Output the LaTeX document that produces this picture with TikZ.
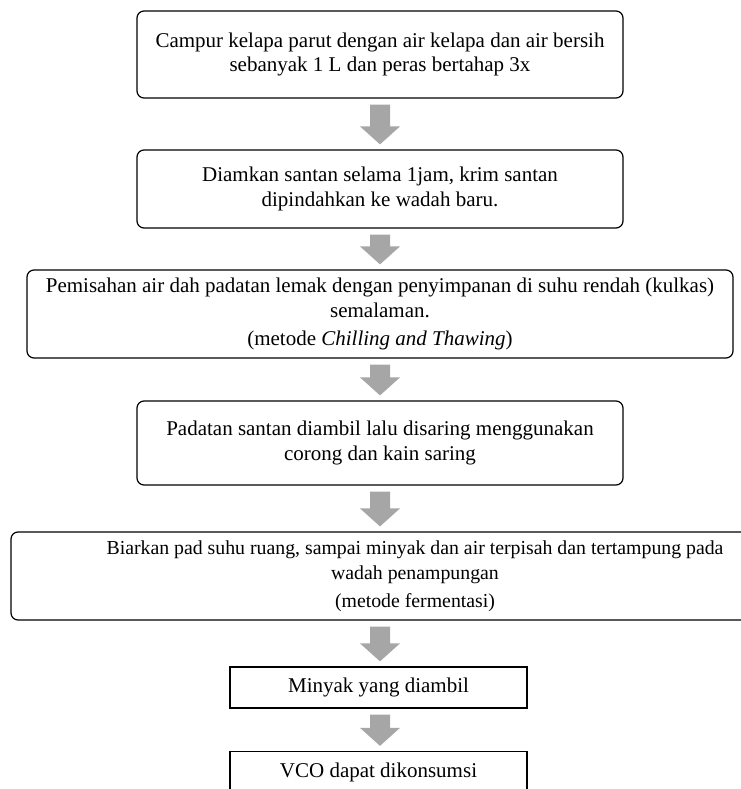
\documentclass[tikz,border=0pt]{standalone}
\usepackage{fontspec}
\setmainfont{Liberation Serif}
\usepackage{tikz}
\usetikzlibrary{calc, positioning}

\definecolor{arrowgray}{RGB}{166,166,166}

\tikzset{
    stepbox/.style={draw, rounded corners=7, line width=1.2pt, align=center, inner sep=0pt,
        font=\fontsize{21}{24.5}\selectfont},
    plainbox/.style={draw, line width=1.3pt, align=center, inner sep=0pt,
        font=\fontsize{21}{24.5}\selectfont},
}

% gray block arrow from one box down to the next
\newcommand{\flowarrow}[2]{%
    \fill[arrowgray] let \p1=(#1.south), \p2=(#2.north) in
        (370pt,\y1-6pt) -- (390pt,\y1-6pt) -- (390pt,\y2+23pt) -- (400pt,\y2+23pt)
        -- (380pt,\y2+5pt) -- (360pt,\y2+23pt) -- (370pt,\y2+23pt) -- cycle;}

\begin{document}
\begin{tikzpicture}[x=1pt, y=-1pt]
    \useasboundingbox (0, 0) rectangle (740, 789);

    \node[stepbox, minimum width=486, minimum height=87] (campur) at (380, 54.5)
        {Campur kelapa parut dengan air kelapa dan air bersih \\ sebanyak 1 L dan peras bertahap 3x};
    \node[stepbox, minimum width=486, minimum height=78] (diamkan) at (380, 189)
        {Diamkan santan selama 1jam, krim santan \\ dipindahkan ke wadah baru.};
    \node[stepbox, minimum width=706, minimum height=88] (pisah) at (380, 314)
        {Pemisahan air dah padatan lemak dengan penyimpanan di suhu rendah (kulkas) \\
         semalaman. \\[3.5pt] (metode \textit{Chilling and Thawing})};
    \node[stepbox, minimum width=486, minimum height=84] (saring) at (380, 443)
        {Padatan santan diambil lalu disaring menggunakan \\ corong dan kain saring};
    \node[stepbox, minimum width=808, minimum height=88, font=\fontsize{19.8}{24.5}\selectfont]
        (fermen) at (415, 576)
        {Biarkan pad suhu ruang, sampai minyak dan air terpisah dan tertampung pada \\
         wadah penampungan \\[3.5pt] (metode fermentasi)};
    \node[plainbox, minimum width=297, minimum height=41] (minyak) at (378.5, 687.5)
        {Minyak yang diambil};
    \node[plainbox, minimum width=297, minimum height=41] (vco) at (378.5, 772)
        {VCO dapat dikonsumsi};

    \flowarrow{campur}{diamkan}
    \flowarrow{diamkan}{pisah}
    \flowarrow{pisah}{saring}
    \flowarrow{saring}{fermen}
    \flowarrow{fermen}{minyak}
    \flowarrow{minyak}{vco}
\end{tikzpicture}
\end{document}
